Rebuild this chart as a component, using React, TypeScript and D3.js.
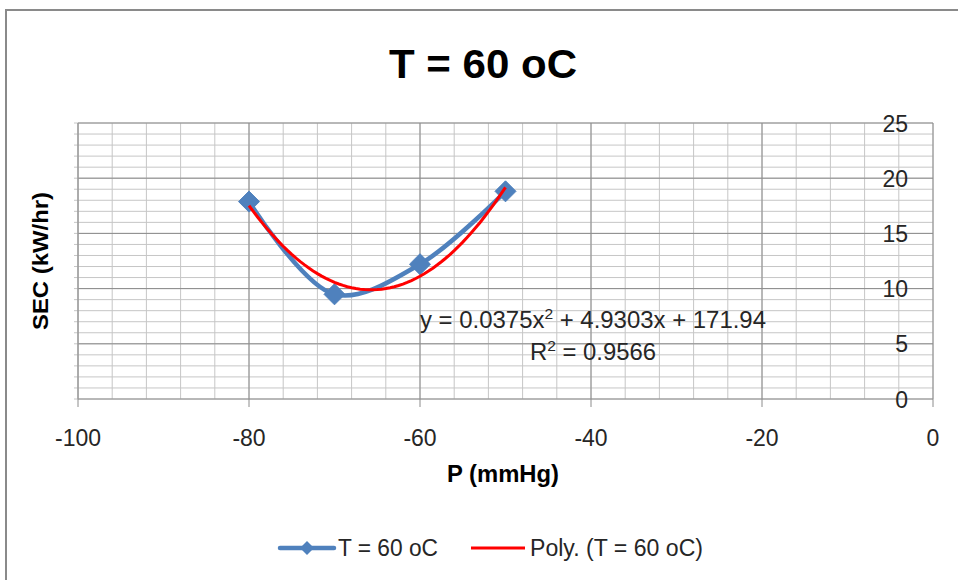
import React from "react";
import * as d3 from "d3";

// Measured series: pressure (mmHg) vs specific energy consumption
const pressure = [-80, -70, -60, -50];
const sec = [17.88, 9.48, 12.21, 18.81];

// Polynomial trendline coefficients (y = a x² + b x + c) and fit quality
const trendCoef = [0.0375, 4.9303, 171.94];
const rSquared = 0.9566;

const xTicks = [-100, -80, -60, -40, -20, 0];
const yTicks = [0, 5, 10, 15, 20, 25];

const titleText = "T = 60 oC";
const seriesName = "T = 60 oC";
const trendName = "Poly. (T = 60 oC)";
const xTitle = "P (mmHg)";
const yTitle = "SEC (kW/hr)";

const W = 958;
const H = 580;
const plot = { left: 78, right: 933, top: 123, bottom: 399 };
const FONT = "'Liberation Sans', Arial, sans-serif";

export default function App() {
  const x = d3.scaleLinear().domain([-100, 0]).range([plot.left, plot.right]);
  const y = d3.scaleLinear().domain([0, 25]).range([plot.bottom, plot.top]);

  const minorX = d3.range(-100, 0.001, 4);
  const minorY = d3.range(0, 25.001, 1);

  const pts: [number, number][] = pressure.map((p, i) => [p, sec[i]]);
  const seriesLine = d3
    .line<[number, number]>()
    .x((d) => x(d[0]))
    .y((d) => y(d[1]))
    .curve(d3.curveCatmullRom.alpha(0.5))(pts);

  const [a, b, c] = trendCoef;
  const trendPts: [number, number][] = d3
    .range(-80, -49.999, 0.5)
    .map((p) => [p, a * p * p + b * p + c]);
  const trendLine = d3
    .line<[number, number]>()
    .x((d) => x(d[0]))
    .y((d) => y(d[1]))(trendPts);

  const diamond = (cx: number, cy: number, r: number) =>
    `M${cx},${cy - r}L${cx + r},${cy}L${cx},${cy + r}L${cx - r},${cy}Z`;

  const blue = "#4f81bd";
  const red = "#ff0000";
  const ink = "#262626";

  return (
    <svg
      width={W}
      height={H}
      style={{ position: "absolute", left: 0, top: 0, background: "#fff" }}
      fontFamily={FONT}
    >
      {/* chart frame */}
      <path d={`M6,${H}V10H${W}`} fill="none" stroke="#8a8a8a" strokeWidth={2} />

      <text x={483} y={78} textAnchor="middle" fontSize={41} fontWeight="bold" fill="#000"
        textLength={188} lengthAdjust="spacingAndGlyphs">
        {titleText}
      </text>

      {/* minor grid */}
      <g stroke="#c6c6c6" strokeWidth={1}>
        {minorX.map((v) => (
          <line key={"mx" + v} x1={x(v)} x2={x(v)} y1={plot.top} y2={plot.bottom} />
        ))}
        {minorY.map((v) => (
          <line key={"my" + v} x1={plot.left - 4} x2={plot.right} y1={y(v)} y2={y(v)} />
        ))}
      </g>
      {/* major grid */}
      <g stroke="#8c8c8c" strokeWidth={1}>
        {xTicks.map((v) => (
          <line key={"Mx" + v} x1={x(v)} x2={x(v)} y1={plot.top} y2={plot.bottom + 8} />
        ))}
        {yTicks.map((v) => (
          <line key={"My" + v} x1={plot.left} x2={plot.right} y1={y(v)} y2={y(v)} />
        ))}
      </g>
      <line x1={plot.left} x2={plot.left} y1={plot.top} y2={plot.bottom} stroke="#a0a0a0" />

      {/* tick labels */}
      <g fontSize={23} fill={ink}>
        {xTicks.map((v) => (
          <text key={"tx" + v} x={x(v)} y={446} textAnchor="middle">
            {String(v)}
          </text>
        ))}
        {yTicks.map((v) => (
          <text key={"ty" + v} x={908} y={y(v) + 8.5} textAnchor="end">
            {v}
          </text>
        ))}
      </g>

      {/* axis titles */}
      <text x={503} y={482} textAnchor="middle" fontSize={23} fontWeight="bold" fill="#000"
        textLength={112} lengthAdjust="spacingAndGlyphs">
        {xTitle}
      </text>
      <text transform="translate(48,261) rotate(-90)" textAnchor="middle" fontSize={22}
        fontWeight="bold" fill="#000" textLength={138} lengthAdjust="spacingAndGlyphs">
        {yTitle}
      </text>

      {/* data series */}
      <path d={seriesLine ?? ""} fill="none" stroke={blue} strokeWidth={4.5} strokeLinejoin="round" />
      {pts.map((d, i) => (
        <path key={"m" + i} d={diamond(x(d[0]), y(d[1]), 10.5)} fill={blue} stroke={blue} strokeWidth={1} />
      ))}
      {/* trendline */}
      <path d={trendLine ?? ""} fill="none" stroke={red} strokeWidth={3} />

      {/* trendline label */}
      <g fontSize={23} fill={ink} textAnchor="middle">
        <text x={593} y={328} textLength={346} lengthAdjust="spacingAndGlyphs">
          {`y = ${a}x`}
          <tspan dy={-9} fontSize={15}>2</tspan>
          <tspan dy={9}>{` + ${b}x + ${c}`}</tspan>
        </text>
        <text x={593} y={360} textLength={126} lengthAdjust="spacingAndGlyphs">
          R<tspan dy={-9} fontSize={15}>2</tspan>
          <tspan dy={9}>{` = ${rSquared}`}</tspan>
        </text>
      </g>

      {/* legend */}
      <line x1={280} x2={334} y1={548} y2={548} stroke={blue} strokeWidth={4.5} strokeLinecap="round" />
      <path d={diamond(307, 548, 7)} fill={blue} />
      <text x={338} y={556} fontSize={23} fill={ink} textLength={100} lengthAdjust="spacingAndGlyphs">
        {seriesName}
      </text>
      <line x1={471} x2={525} y1={548} y2={548} stroke={red} strokeWidth={3} />
      <text x={530} y={556} fontSize={23} fill={ink} textLength={173} lengthAdjust="spacingAndGlyphs">
        {trendName}
      </text>
    </svg>
  );
}
